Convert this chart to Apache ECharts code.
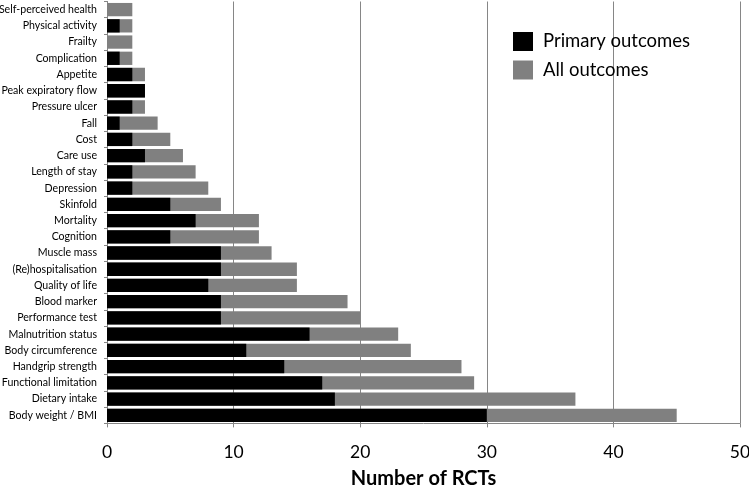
<!DOCTYPE html>
<html><head><meta charset="utf-8">
<script src="https://cdn.jsdelivr.net/npm/echarts@6/dist/echarts.min.js"></script>
<style>html,body{margin:0;padding:0;background:#fff}#c{width:749px;height:485px}</style>
</head><body><div id="c"></div>
<script>
// categories bottom to top
const categories = ["Body weight / BMI","Dietary intake","Functional limitation","Handgrip strength","Body circumference","Malnutrition status","Performance test","Blood marker","Quality of life","(Re)hospitalisation","Muscle mass","Cognition","Mortality","Skinfold","Depression","Length of stay","Care use","Cost","Fall","Pressure ulcer","Peak expiratory flow","Appetite","Complication","Frailty","Physical activity","Self-perceived health"];
const primaryOutcomes = [30,18,17,14,11,16,9,9,8,9,9,5,7,5,2,2,3,2,1,2,3,2,1,0,1,0];
const allOutcomes = [45,37,29,28,24,23,20,19,15,15,13,12,12,9,8,7,6,5,4,3,3,3,2,2,2,2];
const xTicks = {min:0, max:50, interval:10};
const FONT = 'Lato';

const chart = echarts.init(document.getElementById('c'));
chart.setOption({
  animation:false,
  textStyle:{fontFamily:FONT},
  grid:{left:107, right:9, top:1.5, bottom:61.6, containLabel:false, outerBoundsMode:'none'},
  legend:{
    orient:'vertical', left:513, top:32, padding:0, itemWidth:20, itemHeight:19, itemGap:9.5,
    icon:'rect',
    data:['Primary outcomes','All outcomes'],
    textStyle:{fontFamily:FONT, fontSize:18.5, lineHeight:19, color:'#000', padding:[0,0,0,5]}
  },
  xAxis:{
    type:'value', min:xTicks.min, max:xTicks.max, interval:xTicks.interval,
    axisLine:{show:true, lineStyle:{color:'#868686', width:1}},
    axisTick:{show:true, length:4, lineStyle:{color:'#868686'}},
    splitLine:{show:true, lineStyle:{color:'#868686', width:1}},
    axisLabel:{fontFamily:FONT, fontSize:17.5, color:'#000', margin:20},
    name:'Number of RCTs', nameLocation:'middle', nameGap:45,
    nameTextStyle:{fontFamily:FONT, fontSize:20, fontWeight:'bold', color:'#000'}
  },
  yAxis:{
    type:'category', data:categories,
    axisLine:{show:true, lineStyle:{color:'#868686'}},
    axisTick:{show:true, length:3, lineStyle:{color:'#868686'}},
    axisLabel:{fontFamily:FONT, fontSize:10.6, color:'#000', margin:10}
  },
  series:[
    {name:'All outcomes', type:'bar', data:allOutcomes, barCategoryGap:'18%', barGap:'-100%',
     itemStyle:{color:'#808080'}, z:2},
    {name:'Primary outcomes', type:'bar', data:primaryOutcomes, barCategoryGap:'18%', barGap:'-100%',
     itemStyle:{color:'#000000'}, z:3}
  ]
});
</script></body></html>
